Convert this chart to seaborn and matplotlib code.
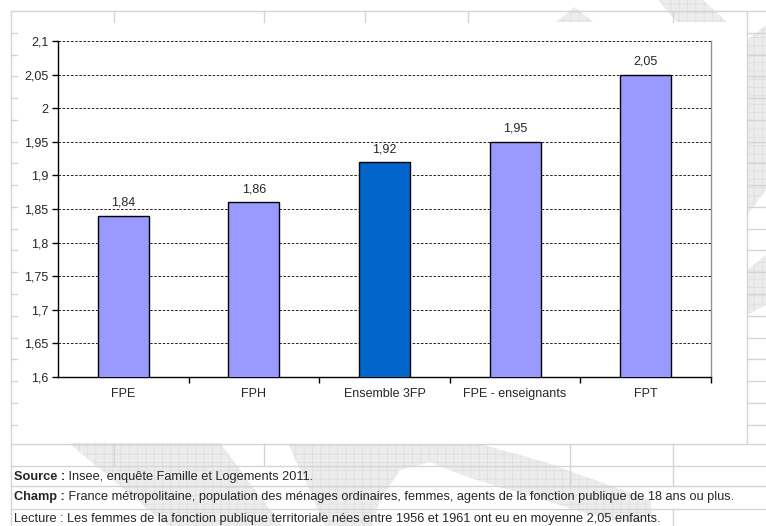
import matplotlib
matplotlib.use("Agg")
import matplotlib.pyplot as plt
import seaborn as sns
from matplotlib.lines import Line2D
from matplotlib.patches import Polygon, Rectangle
from matplotlib.ticker import MultipleLocator, FuncFormatter

categories = ["FPE", "FPH", "Ensemble 3FP", "FPE - enseignants", "FPT"]
values = [1.84, 1.86, 1.92, 1.95, 2.05]
bar_colors = ["#9999FF", "#9999FF", "#0066CC", "#9999FF", "#9999FF"]

source_txt = "Insee, enquête Famille et Logements 2011."
champ_txt = "France métropolitaine, population des ménages ordinaires, femmes, agents de la fonction publique de 18 ans ou plus."
lecture_txt = "Lecture : Les femmes de la fonction publique territoriale nées entre 1956 et 1961 ont eu en moyenne 2,05 enfants."

sns.set_style("white")
plt.rcParams["font.family"] = ["Liberation Sans", "DejaVu Sans"]
plt.rcParams["hatch.linewidth"] = 0.5

W, H = 766, 526
fig = plt.figure(figsize=(W / 100, H / 100), dpi=100)
fig.patch.set_facecolor("white")


def fpt(x, y):
    return (x / W, 1 - y / H)


def px_line(x0, y0, x1, y1, color="#d4d4d4", lw=1.0):
    fig.add_artist(Line2D([x0 / W, x1 / W], [1 - y0 / H, 1 - y1 / H],
                          transform=fig.transFigure, color=color, lw=lw,
                          zorder=2))


def watermark(points):
    fig.add_artist(Polygon([fpt(x, y) for x, y in points], closed=True,
                           transform=fig.transFigure, facecolor="#ececec",
                           edgecolor="#dddddd", hatch="++", linewidth=0,
                           zorder=1))


# faint watermark of the source page
watermark([(70, 444), (120, 436), (215, 436), (282, 526), (168, 526)])
watermark([(288, 444), (480, 444), (545, 462), (650, 500), (652, 512),
           (640, 522), (610, 520), (470, 478), (430, 462), (400, 470),
           (380, 500), (372, 526), (325, 526), (305, 480)])
watermark([(556, 22), (575, 7), (593, 22)])
watermark([(658, 0), (703, 0), (727, 22), (677, 22)])
watermark([(747, 40), (766, 25), (766, 190), (747, 215)])
watermark([(747, 270), (766, 255), (766, 305), (747, 315)])

# white chart area hides the watermark
fig.add_artist(Rectangle(fpt(12, 443), 734 / W, 420 / H,
                         transform=fig.transFigure, facecolor="white",
                         edgecolor="none", zorder=1.5))

# spreadsheet grid behind the chart
for x in [114, 264, 365, 468, 673]:
    px_line(x, 11, x, 22)
row_ys = [33, 55, 76, 98, 120, 142, 163, 185, 207, 229, 250, 272, 294, 316,
          338, 359, 381, 403, 425]
for y in row_ys:
    px_line(11, y, 17, y)
    px_line(747, y, 766, y)
# chart frame
px_line(11, 11, 766, 11)
px_line(11, 11, 11, 526)
px_line(747, 11, 747, 444)
# table rows at the bottom
for y in [444, 466, 486, 509]:
    px_line(11, y, 766, y)
for x in [114, 264]:
    px_line(x, 444, x, 466)
for x in [570, 673]:
    px_line(x, 444, x, 486)
px_line(673, 509, 673, 526)

ax = fig.add_axes([58 / W, 1 - 377 / H, (711 - 58) / W, (377 - 41) / H])
ax.set_zorder(3)
ax.set_facecolor("white")

sns.barplot(x=categories, y=values, hue=categories, palette=bar_colors,
            width=0.39, edgecolor="black", linewidth=1.0, legend=False,
            saturation=1, ax=ax, zorder=3)

ax.set_ylim(1.6, 2.1)
ax.set_xlim(-0.5, len(categories) - 0.5)
ax.yaxis.set_major_locator(MultipleLocator(0.05))
ax.yaxis.set_major_formatter(FuncFormatter(
    lambda v, _: ("%.2f" % v).rstrip("0").rstrip(".").replace(".", ",")))
ax.grid(axis="y", color="black", linestyle=(0, (3, 2)), linewidth=0.6, zorder=0)
ax.set_axisbelow(True)

for s in ["left", "bottom"]:
    ax.spines[s].set_color("black")
    ax.spines[s].set_linewidth(1.0)
ax.spines["top"].set_visible(False)
ax.spines["right"].set_color("#909090")
ax.spines["right"].set_linewidth(1.0)

ax.set_xlabel("")
ax.set_ylabel("")
ax.tick_params(axis="y", which="major", direction="out", length=4, width=1,
               color="black", labelsize=9, pad=3, left=True)
ax.tick_params(axis="x", which="major", length=0, labelsize=9, pad=8)
ax.set_xticks([i + 0.5 for i in range(len(categories))], minor=True)
ax.tick_params(axis="x", which="minor", direction="out", length=4, width=1,
               color="black", bottom=True)

for cont, v in zip(ax.containers, values):
    ax.bar_label(cont, labels=[("%.2f" % v).replace(".", ",")], padding=5,
                 fontsize=9)

# notes under the chart
fs = 9.2
t1 = fig.text(14 / W, 1 - 477 / H, "Source :", fontsize=fs, fontweight="bold",
              va="center", ha="left", zorder=4)
ax.annotate(" " + source_txt, xy=(1, 0.5), xycoords=t1, va="center",
            ha="left", fontsize=fs, annotation_clip=False)
t2 = fig.text(14 / W, 1 - 497 / H, "Champ :", fontsize=fs, fontweight="bold",
              va="center", ha="left", zorder=4)
ax.annotate(" " + champ_txt, xy=(1, 0.5), xycoords=t2, va="center",
            ha="left", fontsize=fs, annotation_clip=False)
fig.text(14 / W, 1 - 519 / H, lecture_txt, fontsize=fs, va="center",
         ha="left", zorder=4)

fig.savefig("out.png", dpi=100)
